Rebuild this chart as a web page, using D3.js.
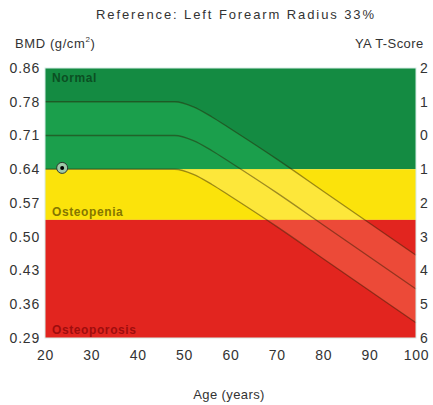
<!DOCTYPE html>
<html>
  <head>
    <meta charset="utf-8">
    <script src="https://d3js.org/d3.v7.min.js" charset="utf-8"></script>
    <style>
    body {
      margin: 0;
      background-color: #fff;
    }
    text {
      font-family: "Liberation Sans", Arial, sans-serif;
      fill: #333;
    }
    .tick text {
      font-size: 14px;
      letter-spacing: 0.8px;
    }
    </style>
    <title>BMD reference</title>
  </head>
  <body>
    <div class='chart'></div>
    <script>

      // band limits in T-score units
      var bandNames = ['Normal', 'Osteopenia', 'Osteoporosis'];
      var bandTop = [2, -1, -2.5];
      var bandBottom = [-1, -2.5, -6];

      // reference curves (T-score at age)
      var ages = [20, 40, 48, 52, 56, 60, 70, 80, 90, 100];
      var upperT = [1, 1, 1, 0.85, 0.55, 0.2, -0.7, -1.65, -2.6, -3.55];
      var meanT = [0, 0, 0, -0.15, -0.45, -0.8, -1.7, -2.65, -3.6, -4.55];
      var lowerT = [-1, -1, -1, -1.15, -1.45, -1.8, -2.7, -3.65, -4.6, -5.55];

      // axes
      var ageTicks = [20, 30, 40, 50, 60, 70, 80, 90, 100];
      var tTicks = [2, 1, 0, -1, -2, -3, -4, -5, -6];
      var bmdLabels = ['0.86', '0.78', '0.71', '0.64', '0.57', '0.50', '0.43', '0.36', '0.29'];
      var tLabels = ['2', '1', '0', '1', '2', '3', '4', '5', '6'];

      // patient
      var patientAge = 23.7;
      var patientT = -0.96;

      var width = 433;
      var height = 405;
      var margin = {top: 68, right: 17, bottom: 67, left: 45};
      var innerW = width - margin.left - margin.right;
      var innerH = height - margin.top - margin.bottom;

      var baseColor = ['#148b42', '#fbe30b', '#e2251f'];
      var lightColor = ['#1b9f4c', '#fde73a', '#ec4a38'];
      var labelColor = ['#0b4f22', '#857600', '#9e0d0d'];

      var svg = d3.select('.chart').append('svg')
          .attr('width', width)
          .attr('height', height);

      var g = svg.append('g')
          .attr('transform', 'translate(' + margin.left + ',' + margin.top + ')');

      var x = d3.scaleLinear().domain([20, 100]).range([0, innerW]);
      var y = d3.scaleLinear().domain([-6, 2]).range([innerH, 0]);

      var bands = bandNames.map(function(name, i) {
        return {name: name, top: bandTop[i], bottom: bandBottom[i], i: i};
      });

      g.selectAll('rect.band')
          .data(bands)
          .enter().append('rect')
          .attr('class', 'band')
          .attr('x', 0)
          .attr('width', innerW)
          .attr('y', function(d) { return y(d.top); })
          .attr('height', function(d) { return y(d.bottom) - y(d.top); })
          .attr('fill', function(d) { return baseColor[d.i]; });

      var curve = ages.map(function(a, i) {
        return {age: a, up: upperT[i], mid: meanT[i], lo: lowerT[i]};
      });

      var area = d3.area()
          .curve(d3.curveMonotoneX)
          .x(function(d) { return x(d.age); })
          .y0(function(d) { return y(d.lo); })
          .y1(function(d) { return y(d.up); });

      svg.append('defs').append('clipPath')
          .attr('id', 'sdband')
        .append('path')
          .attr('d', area(curve));

      g.append('g')
          .attr('clip-path', 'url(#sdband)')
        .selectAll('rect')
          .data(bands)
          .enter().append('rect')
          .attr('x', 0)
          .attr('width', innerW)
          .attr('y', function(d) { return y(d.top); })
          .attr('height', function(d) { return y(d.bottom) - y(d.top); })
          .attr('fill', function(d) { return lightColor[d.i]; });

      ['up', 'mid', 'lo'].forEach(function(key) {
        var line = d3.line()
            .curve(d3.curveMonotoneX)
            .x(function(d) { return x(d.age); })
            .y(function(d) { return y(d[key]); });
        g.append('path')
            .attr('d', line(curve))
            .attr('fill', 'none')
            .attr('stroke', '#2a1a00')
            .attr('stroke-opacity', 0.45)
            .attr('stroke-width', 1.3);
      });

      // band names
      var labelY = [2, -2.5, -6];
      g.selectAll('text.bandname')
          .data(bands)
          .enter().append('text')
          .attr('class', 'bandname')
          .attr('x', 7)
          .attr('y', function(d, i) { return y(labelY[i]) + (i == 0 ? 14 : -4); })
          .attr('font-size', 12)
          .attr('font-weight', 'bold')
          .attr('letter-spacing', 0.6)
          .style('fill', function(d) { return labelColor[d.i]; })
          .text(function(d) { return d.name; });

      // patient point
      g.append('circle')
          .attr('cx', x(patientAge))
          .attr('cy', y(patientT))
          .attr('r', 5.5)
          .attr('fill', '#9fc9a8')
          .attr('stroke', '#2b3a2f')
          .attr('stroke-width', 1);
      g.append('circle')
          .attr('cx', x(patientAge))
          .attr('cy', y(patientT))
          .attr('r', 2)
          .attr('fill', '#000');

      g.append('rect')
          .attr('width', innerW)
          .attr('height', innerH)
          .attr('fill', 'none')
          .attr('stroke', '#d6ece6')
          .attr('stroke-width', 1);

      var xAxis = g.append('g')
          .attr('transform', 'translate(0,' + innerH + ')')
          .call(d3.axisBottom(x).tickValues(ageTicks).tickSize(0).tickPadding(12));

      var yLeft = g.append('g')
          .call(d3.axisLeft(y).tickValues(tTicks).tickSize(0).tickPadding(5)
            .tickFormat(function(d, i) { return bmdLabels[i]; }));

      var yRight = g.append('g')
          .attr('transform', 'translate(' + innerW + ',0)')
          .call(d3.axisRight(y).tickValues(tTicks).tickSize(0).tickPadding(4)
            .tickFormat(function(d, i) { return tLabels[i]; }));

      [xAxis, yLeft, yRight].forEach(function(a) {
        a.select('.domain').remove();
        a.selectAll('text').attr('font-family', null).attr('font-size', null).style('fill', '#333');
      });

      svg.append('text')
          .attr('x', 235)
          .attr('y', 19)
          .attr('text-anchor', 'middle')
          .attr('font-size', 13)
          .attr('textLength', 278)
          .text('Reference: Left Forearm Radius 33%');

      svg.append('text')
          .attr('x', 15)
          .attr('y', 48)
          .attr('font-size', 13)
          .attr('letter-spacing', 0.6)
          .text('BMD (g/cm')
        .append('tspan')
          .attr('font-size', 8)
          .attr('dy', -6)
          .text('2')
        .select(function() { return this.parentNode; })
        .append('tspan')
          .attr('dy', 6)
          .text(')');

      svg.append('text')
          .attr('x', 355)
          .attr('y', 48)
          .attr('font-size', 13)
          .attr('letter-spacing', 0.4)
          .text('YA T-Score');

      svg.append('text')
          .attr('x', 229)
          .attr('y', 399)
          .attr('text-anchor', 'middle')
          .attr('font-size', 13)
          .attr('letter-spacing', 0.4)
          .text('Age (years)');

    </script>
  </body>
</html>
